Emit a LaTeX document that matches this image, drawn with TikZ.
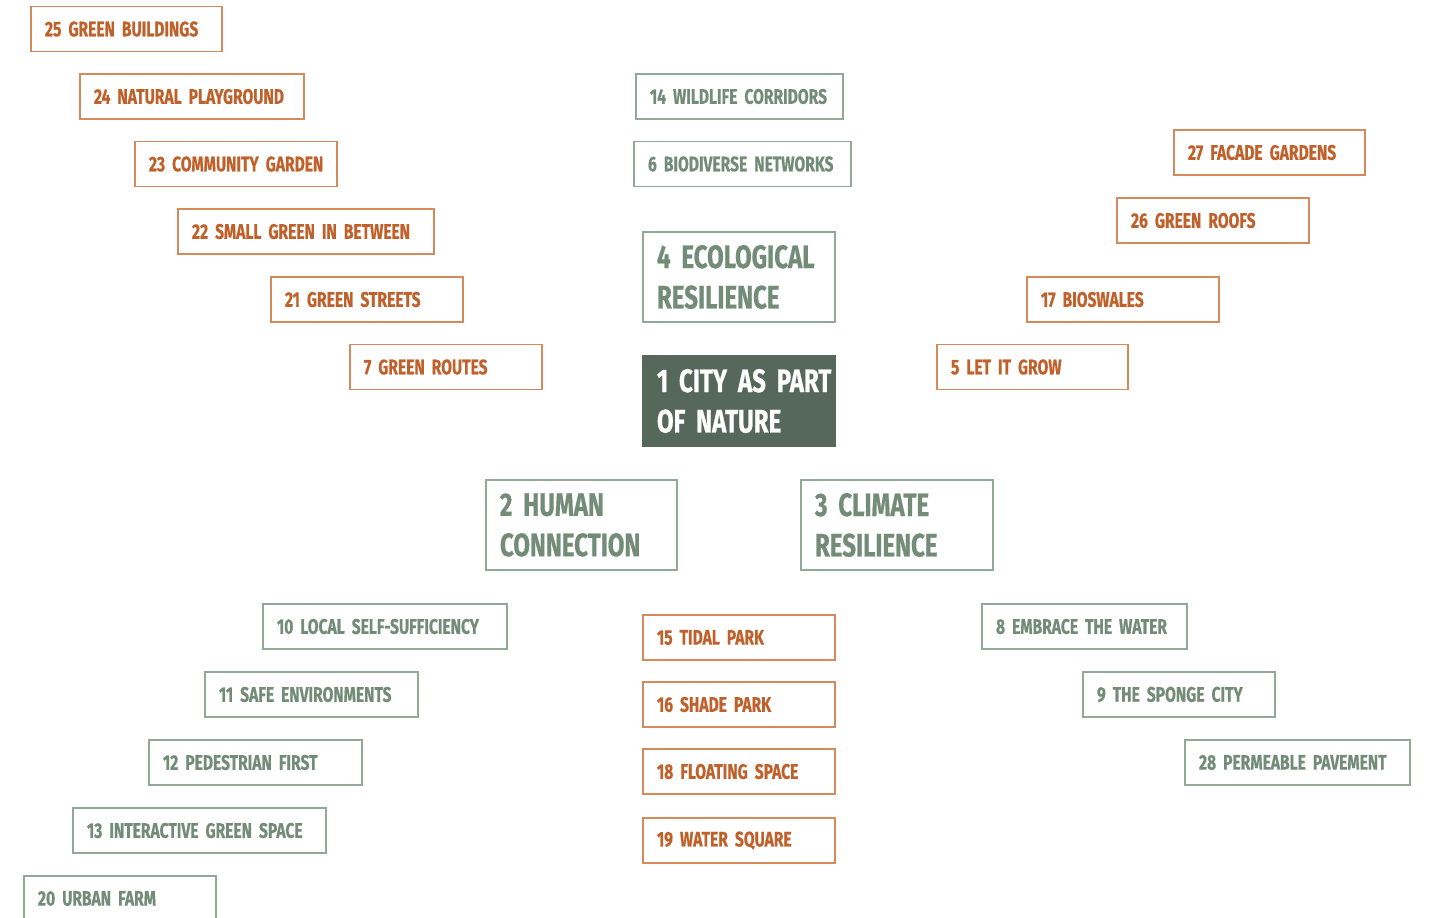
\documentclass[tikz,border=0pt]{standalone}
\usepackage{fontspec}
\setmainfont{Fira Sans}[FakeStretch=0.74, WordSpace=0.6, BoldFont={Fira Sans Bold}, BoldFeatures={FakeBold=0.6}]
\definecolor{orangetext}{HTML}{C0602B}
\definecolor{orangeline}{HTML}{D58A5C}
\definecolor{greentext}{HTML}{728C78}
\definecolor{greenline}{HTML}{93A898}
\definecolor{darkgreen}{HTML}{56685B}
\begin{document}
\begin{tikzpicture}[
    x=0.02cm, y=-0.02cm,
    box/.style={rectangle, draw, line width=0.8pt, inner xsep=0pt, inner ysep=0pt, align=left, text width=#1*0.02cm, execute at begin node={\leftskip=0.28cm\hyphenpenalty=10000}, minimum height=0.9cm, font=\fontsize{12}{14}\selectfont\bfseries},
    obox/.style={box=#1, draw=orangeline, text=orangetext},
    gbox/.style={box=#1, draw=greenline, text=greentext},
    bigbox/.style={gbox=#1, minimum height=1.8cm, font=\fontsize{18.5}{23}\selectfont\bfseries},
    corebox/.style={bigbox=#1, draw=darkgreen, fill=darkgreen, text=white}
]
\useasboundingbox (0,0) rectangle (1429,918);
\clip (0,0) rectangle (1429,918);
% core
\node[corebox=192] (core) at (739, 401) {1 CITY AS PART\\OF NATURE};
\node[bigbox=192] (eco) at (739, 277) {4 ECOLOGICAL\\RESILIENCE};
\node[bigbox=191] (human) at (581.5, 525) {2 HUMAN\\CONNECTION};
\node[bigbox=192] (climate) at (897, 525) {3 CLIMATE\\RESILIENCE};
% upper left
\node[obox=191] (gbuild) at (126.5, 29) {25 GREEN BUILDINGS};
\node[obox=224] (natplay) at (192, 96.5) {24 NATURAL PLAYGROUND};
\node[obox=202] (comgarden) at (236, 164) {23 COMMUNITY GARDEN};
\node[obox=256] (smallgreen) at (306, 231.5) {22 SMALL GREEN IN BETWEEN};
\node[obox=192] (gstreets) at (367, 299.5) {21 GREEN STREETS};
\node[obox=192] (groutes) at (446, 367) {7 GREEN ROUTES};
% upper middle
\node[gbox=207] (wildlife) at (739.5, 96.5) {14 WILDLIFE CORRIDORS};
\node[gbox=217] (biodiv) at (742.5, 164) {6 BIODIVERSE NETWORKS};
% upper right
\node[obox=191] (facade) at (1269.5, 152.5) {27 FACADE GARDENS};
\node[obox=192] (groofs) at (1213, 220.5) {26 GREEN ROOFS};
\node[obox=192] (bioswales) at (1123, 299.5) {17 BIOSWALES};
\node[obox=191] (letgrow) at (1032.5, 367) {5 LET IT GROW};
% lower left
\node[gbox=244] (selfsuff) at (385, 626.5) {10 LOCAL SELF-SUFFICIENCY};
\node[gbox=213] (safe) at (311.5, 694.5) {11 SAFE ENVIRONMENTS};
\node[gbox=213] (pedestrian) at (255.5, 762.5) {12 PEDESTRIAN FIRST};
\node[gbox=253] (interactive) at (199.5, 830.5) {13 INTERACTIVE GREEN SPACE};
\node[gbox=192] (urbanfarm) at (120, 898.5) {20 URBAN FARM};
% lower middle
\node[obox=192] (tidal) at (739, 637.5) {15 TIDAL PARK};
\node[obox=192] (shade) at (739, 704.5) {16 SHADE PARK};
\node[obox=192] (floating) at (739, 771.5) {18 FLOATING SPACE};
\node[obox=192] (watersq) at (739, 840.5) {19 WATER SQUARE};
% lower right
\node[gbox=205] (embrace) at (1084.5, 626.5) {8 EMBRACE THE WATER};
\node[gbox=192] (sponge) at (1179, 694.5) {9 THE SPONGE CITY};
\node[gbox=225] (permeable) at (1297.5, 762.5) {28 PERMEABLE PAVEMENT};
\end{tikzpicture}
\end{document}
